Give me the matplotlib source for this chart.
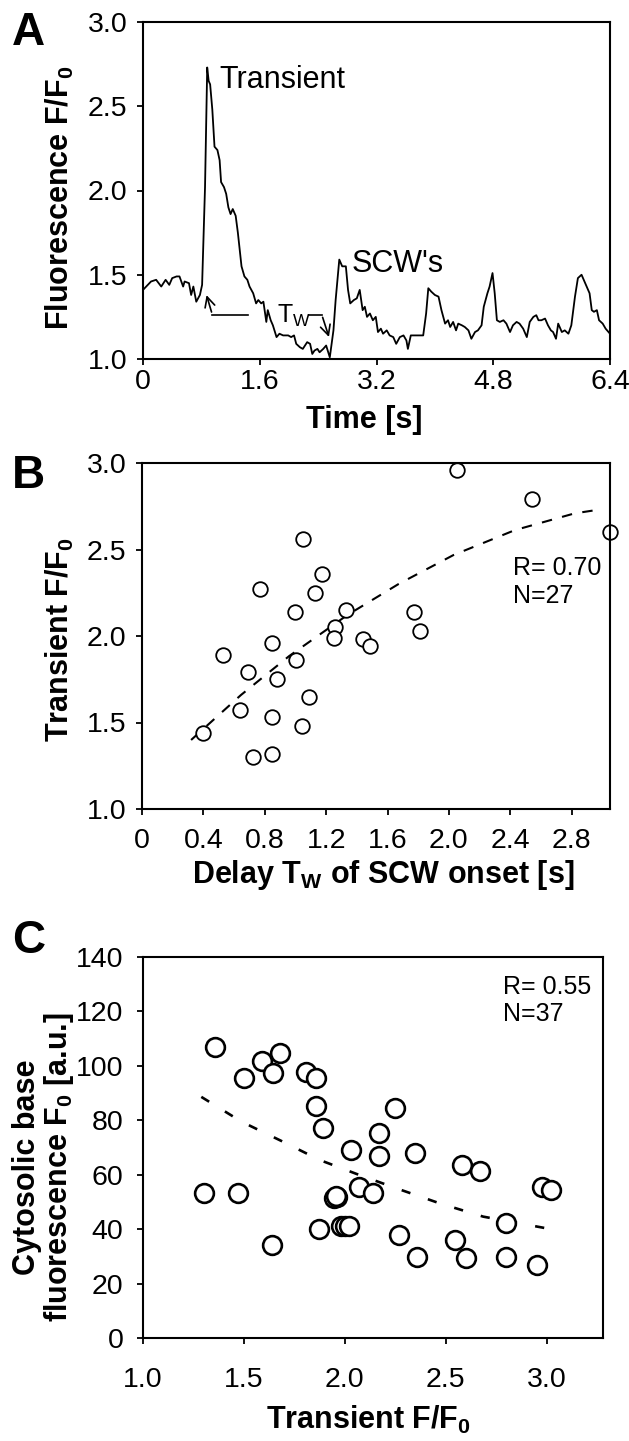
import matplotlib
matplotlib.use("Agg")
import matplotlib.pyplot as plt

plt.rcParams['font.family'] = ['Liberation Sans', 'DejaVu Sans']
plt.rcParams['mathtext.fontset'] = 'custom'
plt.rcParams['mathtext.rm'] = 'Liberation Sans'
plt.rcParams['mathtext.bf'] = 'Liberation Sans:bold'

# ====== data ======
# Panel A: fluorescence trace
time_s = [0.00, 0.11, 0.18, 0.25, 0.31, 0.36, 0.40, 0.46, 0.50, 0.55, 0.57, 0.63, 0.66, 0.69,
          0.73, 0.78, 0.81, 0.85, 0.88, 0.90, 0.92, 0.95, 0.98, 1.02, 1.05, 1.07, 1.11, 1.14,
          1.17, 1.20, 1.23, 1.27, 1.30, 1.35, 1.39, 1.43, 1.46, 1.51, 1.55, 1.58, 1.62, 1.65,
          1.69, 1.71, 1.75, 1.78, 1.83, 1.87, 1.92, 1.99, 2.03, 2.07, 2.10, 2.15, 2.19, 2.25,
          2.29, 2.32, 2.35, 2.39, 2.42, 2.47, 2.51, 2.56, 2.61, 2.64, 2.69, 2.73, 2.78, 2.81,
          2.84, 2.89, 2.93, 2.97, 3.01, 3.04, 3.07, 3.11, 3.15, 3.19, 3.22, 3.26, 3.29, 3.34,
          3.38, 3.43, 3.47, 3.52, 3.57, 3.61, 3.63, 3.67, 3.73, 3.79, 3.84, 3.88, 3.91, 3.95,
          4.00, 4.05, 4.09, 4.14, 4.18, 4.21, 4.25, 4.29, 4.32, 4.37, 4.41, 4.46, 4.50, 4.55,
          4.59, 4.64, 4.67, 4.72, 4.75, 4.79, 4.82, 4.85, 4.89, 4.94, 4.98, 5.03, 5.07, 5.12,
          5.16, 5.21, 5.26, 5.30, 5.35, 5.39, 5.42, 5.46, 5.51, 5.55, 5.59, 5.62, 5.66, 5.69,
          5.74, 5.78, 5.83, 5.87, 5.92, 5.96, 6.01, 6.04, 6.08, 6.12, 6.15, 6.18, 6.22, 6.25,
          6.30, 6.34, 6.40]
fluor = [1.41, 1.46, 1.47, 1.43, 1.47, 1.44, 1.48, 1.49, 1.49, 1.43, 1.46, 1.45, 1.38, 1.43,
         1.34, 1.38, 1.44, 2.02, 2.73, 2.65, 2.63, 2.48, 2.26, 2.24, 2.18, 2.05, 2.02, 1.98,
         1.90, 1.86, 1.89, 1.85, 1.75, 1.55, 1.49, 1.47, 1.43, 1.39, 1.33, 1.35, 1.33, 1.34,
         1.22, 1.29, 1.23, 1.20, 1.13, 1.15, 1.14, 1.14, 1.13, 1.14, 1.09, 1.07, 1.06, 1.10,
         1.09, 1.03, 1.05, 1.06, 1.04, 1.06, 1.08, 1.01, 1.17, 1.35, 1.59, 1.55, 1.55, 1.41,
         1.33, 1.35, 1.36, 1.41, 1.29, 1.31, 1.25, 1.27, 1.23, 1.25, 1.16, 1.18, 1.15, 1.17,
         1.14, 1.13, 1.09, 1.13, 1.14, 1.11, 1.06, 1.14, 1.14, 1.14, 1.14, 1.27, 1.42, 1.40,
         1.38, 1.37, 1.29, 1.21, 1.23, 1.19, 1.22, 1.17, 1.21, 1.20, 1.19, 1.17, 1.12, 1.16,
         1.17, 1.20, 1.31, 1.39, 1.43, 1.51, 1.39, 1.23, 1.22, 1.23, 1.21, 1.16, 1.20, 1.22,
         1.21, 1.18, 1.13, 1.22, 1.25, 1.26, 1.23, 1.23, 1.24, 1.20, 1.17, 1.16, 1.12, 1.21,
         1.16, 1.17, 1.15, 1.20, 1.37, 1.48, 1.50, 1.47, 1.43, 1.39, 1.29, 1.28, 1.29, 1.23,
         1.21, 1.18, 1.15]

# Panel B: delay vs transient amplitude
delay_tw = [2.05, 2.54, 3.05, 1.05, 1.175, 0.77, 1.13, 1.00, 1.33, 1.77, 1.255, 1.25, 1.81, 1.44,
            1.485, 0.846, 0.526, 1.006, 0.69, 0.883, 1.09, 0.64, 0.846, 1.045, 0.40, 0.725, 0.845]
transient_b = [2.96, 2.79, 2.60, 2.56, 2.36, 2.27, 2.25, 2.14, 2.15, 2.14, 2.05, 1.99, 2.03, 1.98,
               1.94, 1.96, 1.89, 1.86, 1.79, 1.75, 1.65, 1.57, 1.53, 1.48, 1.44, 1.30, 1.32]
trend_b_x = [0.32, 0.645, 0.959, 1.338, 1.673, 2.03, 2.43, 2.82, 2.99]
trend_b_y = [1.399, 1.659, 1.884, 2.121, 2.301, 2.468, 2.612, 2.709, 2.732]

# Panel C: transient amplitude vs base fluorescence
transient_c = [1.355, 1.59, 1.68, 1.50, 1.645, 1.81, 1.855, 1.855, 1.89, 2.25, 2.17, 2.03, 2.17,
               2.35, 2.58, 2.67, 1.30, 1.47, 2.07, 2.14, 1.945, 1.96, 2.98, 3.02, 1.87, 1.98,
               2.00, 2.02, 1.64, 2.27, 2.545, 2.80, 2.36, 2.60, 2.80, 2.955, 1.955]
base_f0 = [107.0, 101.8, 104.9, 95.7, 97.4, 97.8, 95.7, 85.2, 77.0, 84.4, 75.2, 69.1, 66.9,
           67.8, 63.6, 61.5, 53.4, 53.4, 55.6, 53.2, 51.3, 51.7, 55.4, 54.4, 40.0, 41.0,
           41.0, 41.0, 34.0, 37.9, 36.1, 42.2, 29.7, 29.3, 29.7, 26.7, 52.0]
trend_c_x = [1.289, 1.488, 1.686, 1.876, 2.058, 2.256, 2.47, 2.686, 3.0]
trend_c_y = [88.6, 79.5, 72.4, 65.4, 60.3, 55.0, 49.5, 44.6, 40.3]

W, H = 629, 1441
fig = plt.figure(figsize=(W / 100, H / 100), dpi=100)


def px_axes(x0, y0, x1, y1):
    return fig.add_axes([x0 / W, 1 - y1 / H, (x1 - x0) / W, (y1 - y0) / H])


def style(ax, xpad, ypad):
    for s in ax.spines.values():
        s.set_linewidth(1.5)
    ax.tick_params(direction='out', length=4, width=1.3, labelsize=20.5)
    ax.tick_params(axis='x', pad=xpad)
    ax.tick_params(axis='y', pad=ypad)


lab = dict(fontsize=22, fontweight='bold')

# ====== A ======
axA = px_axes(143, 22, 610, 359)
axA.plot(time_s, fluor, color='black', lw=1.3)
axA.set_xlim(0, 6.4)
axA.set_ylim(1.0, 3.0)
axA.set_xticks([0, 1.6, 3.2, 4.8, 6.4], ['0', '1.6', '3.2', '4.8', '6.4'])
axA.set_yticks([1.0, 1.5, 2.0, 2.5, 3.0], ['1.0', '1.5', '2.0', '2.5', '3.0'])
style(axA, 3, 7)
axA.text(1.05, 2.61, 'Transient', fontsize=22)
axA.text(2.86, 1.516, "SCW's", fontsize=22)
axA.text(1.84, 1.214, r'T$_\mathrm{W}$', fontsize=18)
axA.plot([1.44, 0.95], [1.263, 1.263], color='black', lw=1.2)
axA.annotate('', xy=(0.86, 1.395), xytext=(0.95, 1.263),
             arrowprops=dict(arrowstyle='->', lw=1.2, color='black', mutation_scale=18))
axA.plot([2.27, 2.45], [1.263, 1.263], color='black', lw=1.2)
axA.annotate('', xy=(2.56, 1.115), xytext=(2.45, 1.263),
             arrowprops=dict(arrowstyle='->', lw=1.2, color='black', mutation_scale=18))
fig.text(60 / W, 1 - 198 / H, r'Fluorescence F/F$_\mathbf{0}$', rotation=90,
         ha='center', va='center', **lab)
fig.text(364 / W, 1 - 420 / H, 'Time [s]', ha='center', va='center', **lab)

# ====== B ======
axB = px_axes(142, 463, 610, 809)
axB.plot(trend_b_x, trend_b_y, color='black', lw=1.5, ls=(0, (5, 5)))
axB.plot(delay_tw, transient_b, 'o', mfc='white', mec='black', ms=10.5, mew=1.3,
         clip_on=False)
axB.set_xlim(0, 3.05)
axB.set_ylim(1.0, 3.0)
axB.set_xticks([0, 0.4, 0.8, 1.2, 1.6, 2.0, 2.4, 2.8],
               ['0', '0.4', '0.8', '1.2', '1.6', '2.0', '2.4', '2.8'])
axB.set_yticks([1.0, 1.5, 2.0, 2.5, 3.0], ['1.0', '1.5', '2.0', '2.5', '3.0'])
style(axB, 10, 7)
axB.text(2.42, 2.353, 'R= 0.70', fontsize=18)
axB.text(2.42, 2.19, 'N=27', fontsize=18)
fig.text(60 / W, 1 - 640 / H, r'Transient F/F$_\mathbf{0}$', rotation=90,
         ha='center', va='center', **lab)
fig.text(383 / W, 1 - 875 / H, r'Delay T$_\mathbf{W}$ of SCW onset [s]',
         ha='center', va='center', **lab)

# ====== C ======
axC = px_axes(143, 957, 603, 1338)
axC.plot(trend_c_x, trend_c_y, color='black', lw=1.9, ls=(0, (3.5, 7)))
axC.plot(transient_c, base_f0, 'o', mfc='white', mec='black', ms=13.5, mew=1.9)
axC.set_xlim(1.0, 3.28)
axC.set_ylim(0, 140)
axC.set_xticks([1.0, 1.5, 2.0, 2.5, 3.0], ['1.0', '1.5', '2.0', '2.5', '3.0'])
axC.set_yticks(range(0, 141, 20))
style(axC, 17, 10)
axC.text(2.785, 126.5, 'R= 0.55', fontsize=18)
axC.text(2.785, 116.4, 'N=37', fontsize=18)
fig.text(44 / W, 1 - 1167 / H, 'Cytosolic base\n' + r'fluorescence F$_\mathbf{0}$ [a.u.]',
         rotation=90, ha='center', va='center', linespacing=1.0, **lab)
fig.text(368 / W, 1 - 1420 / H, r'Transient F/F$_\mathbf{0}$', ha='center', va='center', **lab)

# panel letters
for letter, yb in [('A', 45), ('B', 488), ('C', 953)]:
    fig.text(12 / W, 1 - yb / H, letter, fontsize=33, fontweight='bold', va='baseline')

fig.savefig('out.png', dpi=100)
